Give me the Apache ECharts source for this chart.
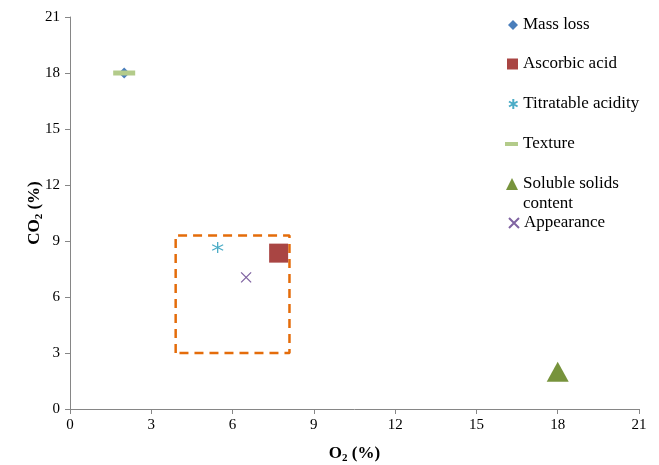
<!DOCTYPE html>
<html><head><meta charset="utf-8">
<script src="https://cdn.jsdelivr.net/npm/echarts@6/dist/echarts.min.js"></script>
<style>html,body{margin:0;padding:0;background:#fff}#c{width:659px;height:465px}</style>
</head><body><div id="c"></div>
<script>
var xTicks = [0, 3, 6, 9, 12, 15, 18, 21];
var yTicks = [0, 3, 6, 9, 12, 15, 18, 21];
var seriesNames = ['Mass loss', 'Ascorbic acid', 'Titratable acidity', 'Texture', 'Soluble solids content', 'Appearance'];
var legendLabels = ['Mass loss', 'Ascorbic acid', 'Titratable acidity', 'Texture', 'Soluble solids', 'Appearance'];
var legendWrap = 'content';
var massLoss = [[2, 18]];
var ascorbicAcid = [[7.7, 8.35]];
var titratableAcidity = [[5.45, 8.65]];
var texture = [[2, 18]];
var solubleSolids = [[18, 2]];
var appearance = [[6.5, 7.05]];
var boxCorners = [[3.9, 3.0], [3.9, 9.3], [8.1, 9.3], [8.1, 3.0], [3.9, 3.0]];

var FONT = '"Liberation Serif", "Times New Roman", serif';
var asterisk = 'path://M5,0 L5,10 M0.7,2.5 L9.3,7.5 M9.3,2.5 L0.7,7.5';
var cross = 'path://M0,0 L10,10 M10,0 L0,10';

var chart = echarts.init(document.getElementById('c'), null, {renderer: 'canvas'});

function leg(i, centerY, icon, w, h) {
  var lh = 20;
  return {
    data: [{name: seriesNames[i], icon: icon}],
    formatter: function () { return legendLabels[i]; },
    left: 518 - w, top: centerY - lh / 2, orient: 'vertical',
    itemWidth: w, itemHeight: h, itemGap: 0, padding: 0,
    selectedMode: false,
    textStyle: {fontFamily: FONT, fontSize: 17, color: '#000', lineHeight: lh}
  };
}

var option = {
  animation: false,
  backgroundColor: '#fff',
  grid: {left: 70, right: 20, top: 17, bottom: 56, outerBoundsMode: 'none', containLabel: false},
  legend: [
    leg(0, 25, 'diamond', 10, 10),
    leg(1, 64, 'rect', 11, 11),
    leg(2, 104, asterisk, 10, 10),
    leg(3, 144, 'rect', 13, 4),
    leg(4, 184, 'triangle', 12, 12),
    leg(5, 223, cross, 10, 10)
  ],
  graphic: [{
    type: 'text', left: 523, top: 194, silent: true,
    style: {text: legendWrap, fontFamily: FONT, fontSize: 17, fill: '#000', lineHeight: 20}
  }],
  xAxis: {
    type: 'value', min: 0, max: 21, interval: 3,
    name: '{b|O}{s|2}{b| (%)}', nameLocation: 'middle', nameGap: 35,
    nameTextStyle: {rich: {
      b: {fontFamily: FONT, fontSize: 17, fontWeight: 'bold', color: '#000'},
      s: {fontFamily: FONT, fontSize: 11, fontWeight: 'bold', color: '#000', verticalAlign: 'bottom', padding: [9, 0, 0, 0]}
    }},
    axisLine: {onZero: false, lineStyle: {color: '#868686', width: 1}},
    axisTick: {show: true, inside: false, length: 5, lineStyle: {color: '#868686'}},
    axisLabel: {fontFamily: FONT, fontSize: 15, color: '#000', margin: 9,
      formatter: function (v) { return xTicks.indexOf(v) >= 0 ? String(v) : ''; }},
    splitLine: {show: false}
  },
  yAxis: {
    type: 'value', min: 0, max: 21, interval: 3,
    name: '{b|CO}{s|2}{b| (%)}', nameLocation: 'middle', nameGap: 25, nameRotate: 90,
    nameMoveOverlap: false,
    nameTextStyle: {rich: {
      b: {fontFamily: FONT, fontSize: 17, fontWeight: 'bold', color: '#000'},
      s: {fontFamily: FONT, fontSize: 11, fontWeight: 'bold', color: '#000', verticalAlign: 'bottom', padding: [9, 0, 0, 0]}
    }},
    axisLine: {show: true, onZero: false, lineStyle: {color: '#868686', width: 1}},
    axisTick: {show: true, inside: false, length: 5, lineStyle: {color: '#868686'}},
    axisLabel: {fontFamily: FONT, fontSize: 15, color: '#000', margin: 10,
      formatter: function (v) { return yTicks.indexOf(v) >= 0 ? String(v) : ''; }},
    splitLine: {show: false}
  },
  series: [
    {type: 'line', name: 'box', data: boxCorners, symbol: 'none', silent: true, z: 1,
      lineStyle: {color: '#E46C0A', width: 2.5, type: [9, 6]}},
    {type: 'scatter', name: seriesNames[0], data: massLoss, symbol: 'diamond', symbolSize: 11, z: 2,
      itemStyle: {color: '#4A7EBB', opacity: 1}},
    {type: 'scatter', name: seriesNames[1], data: ascorbicAcid, symbol: 'rect', symbolSize: 19, z: 2,
      itemStyle: {color: '#A94543', opacity: 1}},
    {type: 'scatter', name: seriesNames[2], data: titratableAcidity, symbol: asterisk, symbolSize: 11, z: 2,
      itemStyle: {color: 'rgba(0,0,0,0)', borderColor: '#4BACC6', borderWidth: 1.3, opacity: 1}},
    {type: 'scatter', name: seriesNames[3], data: texture, symbol: 'rect', symbolSize: [22, 5], z: 3,
      itemStyle: {color: '#B3CB8A', opacity: 1}},
    {type: 'scatter', name: seriesNames[4], data: solubleSolids, symbol: 'triangle', symbolSize: [22, 20], z: 2,
      itemStyle: {color: '#77933C', opacity: 1}},
    {type: 'scatter', name: seriesNames[5], data: appearance, symbol: cross, symbolSize: 10, z: 2,
      itemStyle: {color: 'rgba(0,0,0,0)', borderColor: '#8064A2', borderWidth: 1.3, opacity: 1}}
  ]
};
chart.setOption(option);
</script>
</body></html>
